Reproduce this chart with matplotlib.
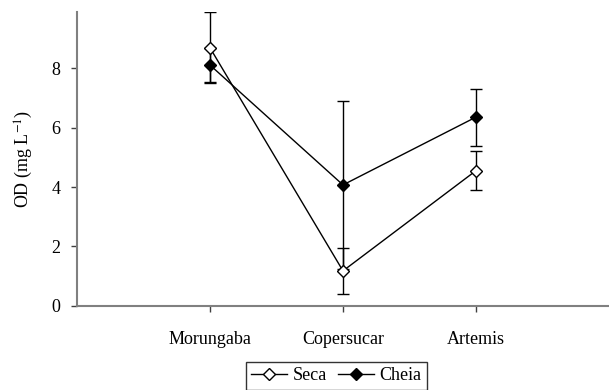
import numpy as np
import matplotlib
matplotlib.use('Agg')
import matplotlib.pyplot as plt
from matplotlib.lines import Line2D

plt.rcParams['font.family'] = ['Liberation Serif', 'DejaVu Serif']
plt.rcParams['mathtext.fontset'] = 'stix'

locais = ['Morungaba', 'Copersucar', 'Artemis']
seca = [8.68, 1.18, 4.55]
seca_err = [1.20, 0.76, 0.65]
cheia = [8.10, 4.07, 6.35]
cheia_err = [0.58, 2.82, 0.96]

x = np.arange(1, len(locais) + 1)

fig = plt.figure(figsize=(6.09, 3.90), dpi=100)
ax = fig.add_axes([0.1264, 0.2154, 0.8736, 0.7536])

estilo = dict(color='black', lw=1.0, marker='D', ms=6, mec='black', mew=1.0,
              capsize=4, elinewidth=1.0, capthick=1.0, zorder=3)
ax.errorbar(x, seca, yerr=seca_err, mfc='white', **estilo)
ax.errorbar(x, cheia, yerr=cheia_err, mfc='black', **estilo)

ax.set_xlim(0, 4)
ax.set_ylim(0, 9.88)
ax.set_xticks(x)
ax.set_xticklabels(locais, fontsize=13)
ax.set_yticks([0, 2, 4, 6, 8])
ax.tick_params(axis='y', labelsize=13, length=4, width=1, color='#404040', pad=8)
ax.tick_params(axis='x', length=4, width=1, color='#404040', pad=14)

for s in ['top', 'right']:
    ax.spines[s].set_visible(False)
for s in ['left', 'bottom']:
    ax.spines[s].set_color('#808080')
    ax.spines[s].set_linewidth(1.5)

ax.set_ylabel(r'OD (mg L$^{-1}$)', fontsize=13, labelpad=12)

handles = [
    Line2D([], [], color='black', lw=1.0, marker='D', ms=6, mfc='white', mec='black'),
    Line2D([], [], color='black', lw=1.0, marker='D', ms=6, mfc='black', mec='black'),
]
leg = fig.legend(handles, ['Seca', 'Cheia'], loc='lower center',
                 bbox_to_anchor=(0.552, 0.0), ncol=2, fontsize=13,
                 frameon=True, fancybox=False, edgecolor='black',
                 handlelength=2.0, columnspacing=0.6, handletextpad=0.3,
                 borderpad=0.3, borderaxespad=0.02)
leg.get_frame().set_linewidth(1.0)

fig.savefig('out.png', dpi=100)
